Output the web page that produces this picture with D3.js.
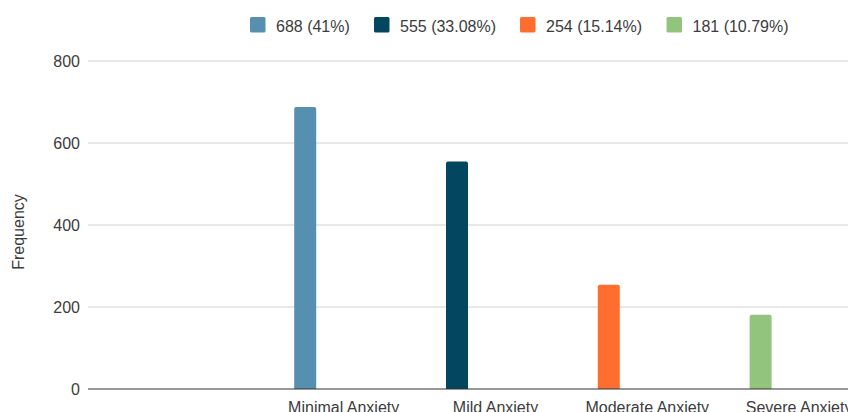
<!DOCTYPE html>
<html>
<head>
<meta charset="utf-8">
<script src="https://cdn.jsdelivr.net/npm/d3@7"></script>
<style>
  html, body { margin: 0; padding: 0; background: #fff; }
  svg { display: block; font-family: Arial, "Liberation Sans", sans-serif; }
</style>
</head>
<body>
<svg id="chart" width="848" height="412"></svg>
<script>
// Anxiety level categories (the first slot is an empty category)
const categories = ["", "Minimal Anxiety", "Mild Anxiety", "Moderate Anxiety", "Severe Anxiety"];
// Respondent counts per anxiety level
const counts = [null, 688, 555, 254, 181];
// Legend entries: value and share
const legendLabels = ["688 (41%)", "555 (33.08%)", "254 (15.14%)", "181 (10.79%)"];
const colors = ["#5790ae", "#03465f", "#ff6d2f", "#93c47d"];
const yTicks = [0, 200, 400, 600, 800];

const svg = d3.select("#chart");
const textColor = "#3c3c3c";
const fontSize = 16;

const x = d3.scaleBand()
  .domain(categories)
  .range([116, 875]);

const y = d3.scaleLinear()
  .domain([0, 800])
  .range([389, 61]);

const plotLeft = 88, plotRight = 876;

// Horizontal gridlines
svg.append("g")
  .selectAll("line")
  .data(yTicks.filter(t => t !== 0))
  .join("line")
  .attr("x1", plotLeft).attr("x2", plotRight)
  .attr("y1", d => y(d)).attr("y2", d => y(d))
  .attr("stroke", "#d0d0d0").attr("stroke-width", 1);

// Y tick labels
svg.append("g")
  .selectAll("text")
  .data(yTicks)
  .join("text")
  .attr("x", 80)
  .attr("y", d => y(d))
  .attr("dy", "0.36em")
  .attr("text-anchor", "end")
  .attr("font-size", fontSize)
  .attr("fill", textColor)
  .text(d => d);

// Y axis title
svg.append("text")
  .attr("transform", `translate(24, ${232}) rotate(-90)`)
  .attr("text-anchor", "middle")
  .attr("font-size", fontSize)
  .attr("fill", textColor)
  .text("Frequency");

// Bars: each sits left of its category centre, one series slot per level
const barWidth = 22;
const barOffset = -38.5;
const barData = categories.map((c, i) => ({ c, v: counts[i], color: colors[i - 1] }))
  .filter(d => d.v != null);

svg.append("g")
  .selectAll("path")
  .data(barData)
  .join("path")
  .attr("fill", d => d.color)
  .attr("d", d => {
    const cx = x(d.c) + x.bandwidth() / 2 + barOffset;
    const x0 = cx - barWidth / 2, x1 = cx + barWidth / 2;
    const top = y(d.v), bottom = y(0), r = 2;
    return `M${x0},${bottom} V${top + r} Q${x0},${top} ${x0 + r},${top} H${x1 - r} Q${x1},${top} ${x1},${top + r} V${bottom} Z`;
  });

// Baseline
svg.append("line")
  .attr("x1", plotLeft).attr("x2", plotRight)
  .attr("y1", y(0)).attr("y2", y(0))
  .attr("stroke", "#333").attr("stroke-width", 1.2);

// Category labels
svg.append("g")
  .selectAll("text")
  .data(categories)
  .join("text")
  .attr("x", d => x(d) + x.bandwidth() / 2)
  .attr("y", 413)
  .attr("text-anchor", "middle")
  .attr("font-size", fontSize)
  .attr("fill", textColor)
  .text(d => d);

// Legend
const legendX = [250, 374, 520, 666.5];
const legend = svg.append("g")
  .selectAll("g")
  .data(legendLabels)
  .join("g")
  .attr("transform", (d, i) => `translate(${legendX[i]}, 17)`);

legend.append("rect")
  .attr("width", 15.5).attr("height", 15.5)
  .attr("rx", 1.5)
  .attr("fill", (d, i) => colors[i]);

legend.append("text")
  .attr("x", 26)
  .attr("y", 14.5)
  .attr("font-size", fontSize)
  .attr("fill", textColor)
  .text(d => d);
</script>
</body>
</html>
